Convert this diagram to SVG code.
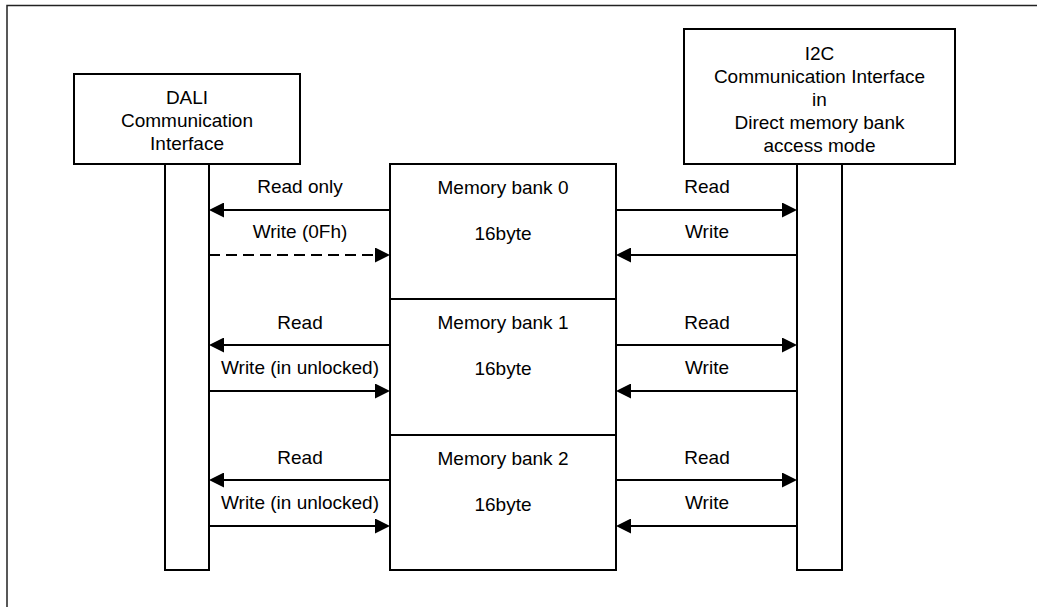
<svg xmlns="http://www.w3.org/2000/svg" width="1037" height="607" viewBox="0 0 1037 607">
<style>
.box{fill:#fff;stroke:#000;stroke-width:2}
.t{font-family:"Liberation Sans",Arial,sans-serif;font-size:19px;fill:#000;text-anchor:middle}
.ln{stroke:#000;stroke-width:2;fill:none;marker-end:url(#ah)}
.dash{stroke-dasharray:11 6}
</style>
<defs>
<marker id="ah" markerUnits="userSpaceOnUse" markerWidth="15" markerHeight="15" viewBox="0 0 15 15" refX="5" refY="7.5" orient="auto">
<path d="M0,0 L15,7.5 L0,15 z" fill="#000"/>
</marker>
</defs>
<rect x="0" y="0" width="1037" height="607" fill="#fff"/>
<polyline points="7,607 7,5.5 1037,5.5" fill="none" stroke="#222" stroke-width="1.5"/>

<g id="dali">
<rect class="box" x="74" y="74" width="226" height="90"/>
<text class="t" x="187" y="104">DALI</text>
<text class="t" x="187" y="127">Communication</text>
<text class="t" x="187" y="150">Interface</text>
<rect class="box" x="165" y="164" width="44" height="406"/>
</g>

<g id="i2c">
<rect class="box" x="684" y="29" width="271" height="135"/>
<text class="t" x="819.5" y="60">I2C</text>
<text class="t" x="819.5" y="83">Communication Interface</text>
<text class="t" x="819.5" y="106">in</text>
<text class="t" x="819.5" y="129">Direct memory bank</text>
<text class="t" x="819.5" y="152">access mode</text>
<rect class="box" x="797" y="164" width="45" height="406"/>
</g>

<g id="bank0">
<rect class="box" x="390" y="164" width="226" height="135"/>
<text class="t" x="503" y="194">Memory bank 0</text>
<text class="t" x="503" y="240">16byte</text>
</g>
<g id="bank1">
<rect class="box" x="390" y="299" width="226" height="136"/>
<text class="t" x="503" y="329">Memory bank 1</text>
<text class="t" x="503" y="375">16byte</text>
</g>
<g id="bank2">
<rect class="box" x="390" y="435" width="226" height="135"/>
<text class="t" x="503" y="465">Memory bank 2</text>
<text class="t" x="503" y="511">16byte</text>
</g>

<g id="connectors">
<line class="ln" x1="390" y1="210" x2="219" y2="210"/>
<line class="ln dash" x1="209" y1="255" x2="380" y2="255"/>
<line class="ln" x1="616" y1="210" x2="787" y2="210"/>
<line class="ln" x1="797" y1="255" x2="626" y2="255"/>

<line class="ln" x1="390" y1="345" x2="219" y2="345"/>
<line class="ln" x1="209" y1="391" x2="380" y2="391"/>
<line class="ln" x1="616" y1="345" x2="787" y2="345"/>
<line class="ln" x1="797" y1="391" x2="626" y2="391"/>

<line class="ln" x1="390" y1="480" x2="219" y2="480"/>
<line class="ln" x1="209" y1="526" x2="380" y2="526"/>
<line class="ln" x1="616" y1="480" x2="787" y2="480"/>
<line class="ln" x1="797" y1="526" x2="626" y2="526"/>

<text class="t" x="300" y="193">Read only</text>
<text class="t" x="300" y="238">Write (0Fh)</text>
<text class="t" x="707" y="193">Read</text>
<text class="t" x="707" y="238">Write</text>

<text class="t" x="300" y="329">Read</text>
<text class="t" x="300" y="374">Write (in unlocked)</text>
<text class="t" x="707" y="329">Read</text>
<text class="t" x="707" y="374">Write</text>

<text class="t" x="300" y="464">Read</text>
<text class="t" x="300" y="509">Write (in unlocked)</text>
<text class="t" x="707" y="464">Read</text>
<text class="t" x="707" y="509">Write</text>
</g>
</svg>
